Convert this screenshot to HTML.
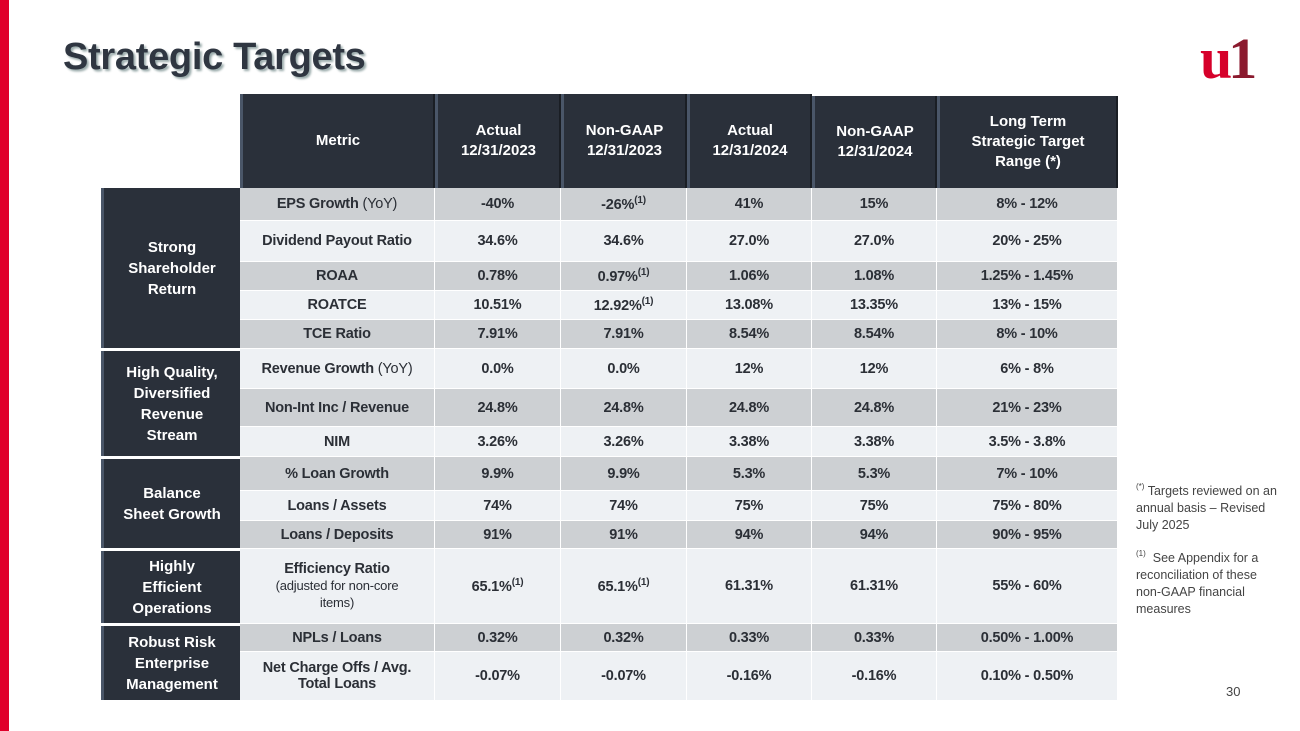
<!DOCTYPE html>
<html><head><meta charset="utf-8"><style>
body{margin:0;width:1300px;height:731px;background:#fff;position:relative;overflow:hidden;font-family:"Liberation Sans",Arial,sans-serif;}
.abs{position:absolute;box-sizing:border-box;display:flex;align-items:center;justify-content:center;text-align:center;}
.abs>span{display:block;}
.hd{background:#2a303a;color:#fff;font-weight:bold;font-size:15px;line-height:20px;border-left:3px solid #4a5668;border-right:2px solid #1a1e24;}
.grp{background:#2a303a;color:#fff;font-weight:bold;font-size:15px;line-height:21px;border-left:3px solid #4a5668;}
.c{color:#2b2f36;font-weight:bold;font-size:14.5px;border-right:1px solid #fff;border-bottom:1px solid #fff;letter-spacing:-0.2px;}
.g{background:#cdd0d3;}.l{background:#eef1f4;}
.n{font-weight:normal;}
sup{font-size:10px;vertical-align:6px;}
</style></head><body>
<div style="position:absolute;left:0;top:0;width:9px;height:731px;background:#e0002a"></div>
<div style="position:absolute;left:63px;top:36px;font-size:38px;font-weight:bold;color:#2f3641;text-shadow:2px 2px 2px #9aa;letter-spacing:-0.3px">Strategic Targets</div>
<div style="position:absolute;left:1200px;top:34px;font-family:'Liberation Serif',serif;font-weight:bold;font-size:58px;line-height:50px;letter-spacing:-4px"><span style="color:#d6002a">u</span><span style="color:#8b1a2e">1</span></div>
<div style="position:absolute;left:1136px;top:478px;width:148px;font-size:12.5px;line-height:17px;color:#444"><sup style="font-size:8px">(*)</sup> Targets reviewed on an annual basis – Revised July 2025</div>
<div style="position:absolute;left:1136px;top:545px;width:148px;font-size:12.5px;line-height:17px;color:#444"><sup style="font-size:8px">(1)</sup>&nbsp; See Appendix for a reconciliation of these non-GAAP financial measures</div>
<div style="position:absolute;left:1226px;top:684px;font-size:13px;color:#444">30</div>
<div id="tbl"></div>
<script>
const cols=[240,435,561,687,812,937,1118];
const heads=["Metric","Actual<br>12/31/2023","Non-GAAP<br>12/31/2023","Actual<br>12/31/2024","Non-GAAP<br>12/31/2024","Long Term<br>Strategic Target<br>Range (*)"];
const rowY=[188,221,262,291,320,349,389,427,457,491,521,549,624,652,701];
const metrics=['EPS Growth <span class="n">(YoY)</span>','Dividend Payout Ratio','ROAA','ROATCE','TCE Ratio','Revenue Growth <span class="n">(YoY)</span>','Non-Int Inc / Revenue','NIM','% Loan Growth','Loans / Assets','Loans / Deposits','Efficiency Ratio<br><span class="n" style="font-size:13px;line-height:17px">(adjusted for non-core<br>items)</span>','NPLs / Loans','Net Charge Offs / Avg.<br>Total Loans'];
const actual23=['-40%','34.6%','0.78%','10.51%','7.91%','0.0%','24.8%','3.26%','9.9%','74%','91%','65.1%<sup>(1)</sup>','0.32%','-0.07%'];
const nongaap23=['-26%<sup>(1)</sup>','34.6%','0.97%<sup>(1)</sup>','12.92%<sup>(1)</sup>','7.91%','0.0%','24.8%','3.26%','9.9%','74%','91%','65.1%<sup>(1)</sup>','0.32%','-0.07%'];
const actual24=['41%','27.0%','1.06%','13.08%','8.54%','12%','24.8%','3.38%','5.3%','75%','94%','61.31%','0.33%','-0.16%'];
const nongaap24=['15%','27.0%','1.08%','13.35%','8.54%','12%','24.8%','3.38%','5.3%','75%','94%','61.31%','0.33%','-0.16%'];
const targets=['8% - 12%','20% - 25%','1.25% - 1.45%','13% - 15%','8% - 10%','6% - 8%','21% - 23%','3.5% - 3.8%','7% - 10%','75% - 80%','90% - 95%','55% - 60%','0.50% - 1.00%','0.10% - 0.50%'];
const shades=['g','l','g','l','g','l','g','l','g','l','g','l','g','l'];
const groups=["Strong<br>Shareholder<br>Return","High Quality,<br>Diversified<br>Revenue<br>Stream","Balance<br>Sheet Growth","Highly<br>Efficient<br>Operations","Robust Risk<br>Enterprise<br>Management"];
const groupRows=[[0,5],[5,8],[8,11],[11,12],[12,14]];
const T=document.getElementById('tbl');
function box(cls,x,y,w,h,html){const d=document.createElement('div');d.className='abs '+cls;d.style.left=x+'px';d.style.top=y+'px';d.style.width=w+'px';d.style.height=h+'px';d.innerHTML='<span>'+html+'</span>';T.appendChild(d);return d;}
heads.forEach((h,i)=>{
  const d=box('hd',cols[i],i>=4?96:94,cols[i+1]-cols[i],i>=4?92:94,h);
  
  
});
groupRows.forEach((g,i)=>{
  const y0=rowY[g[0]]+(i?2:0),y1=rowY[g[1]]-1;
  const d=box('grp',101,y0,139,y1-y0,groups[i]);
  
  
});
const colsData=[metrics,actual23,nongaap23,actual24,nongaap24,targets];
for(let r=0;r<metrics.length;r++){
  for(let c=0;c<6;c++){
    const d=box('c '+shades[r],cols[c],rowY[r],cols[c+1]-cols[c],rowY[r+1]-rowY[r],colsData[c][r]);
    
    
  }
}
</script>
</body></html>
